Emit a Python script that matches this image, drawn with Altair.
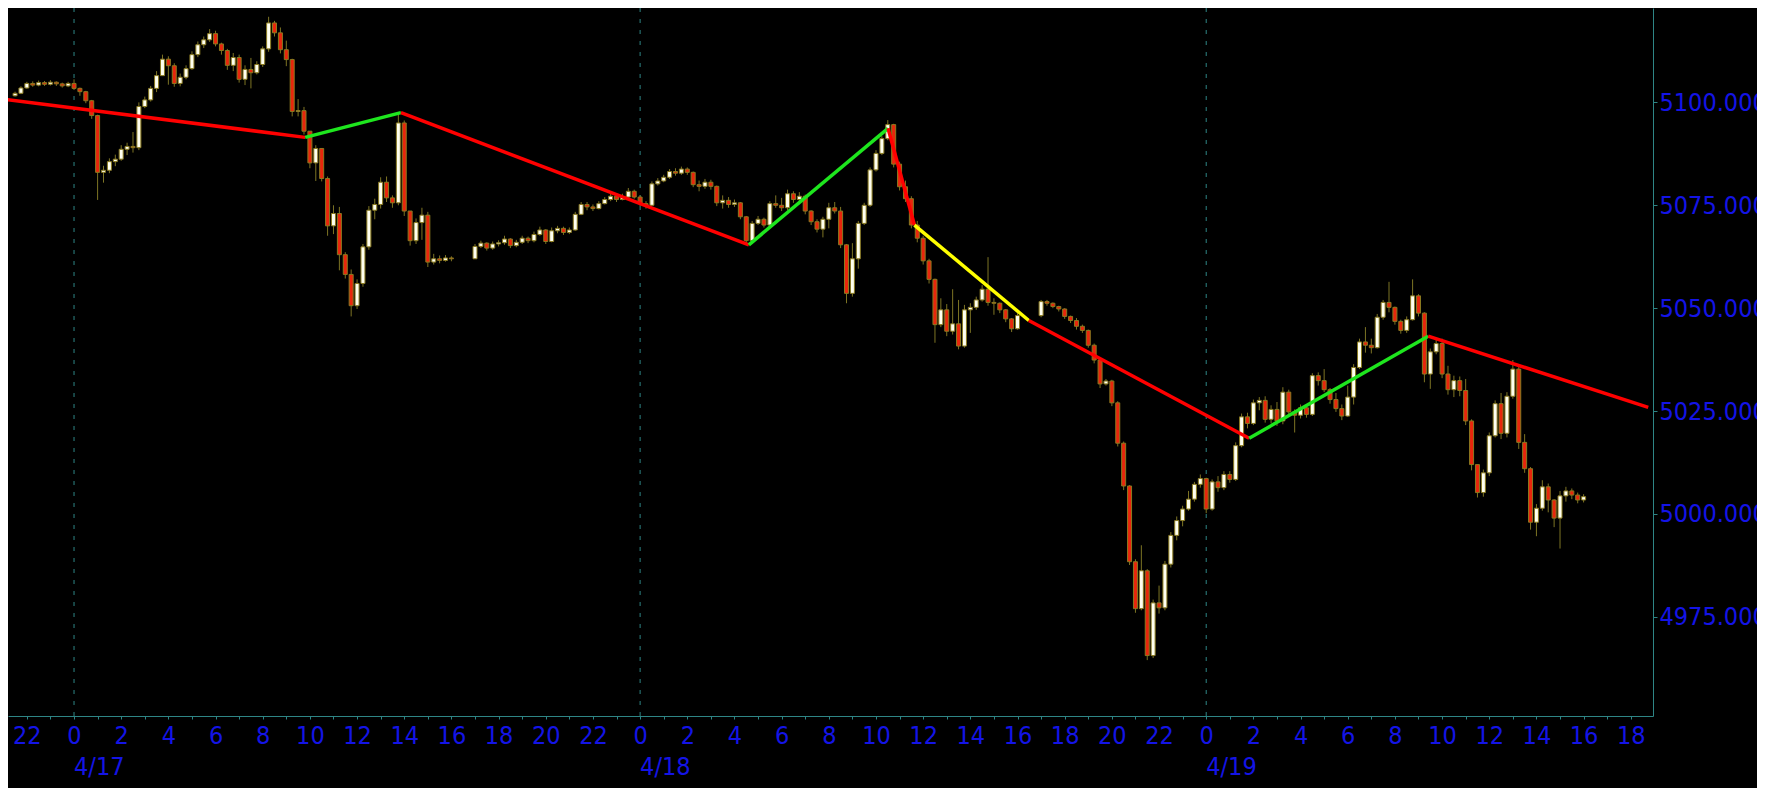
import pandas as pd
import altair as alt

# 15-minute bars, time in hours counted from 4/17 00:00
session_start = [-2.5, 17.0, 41.0]
first_open = 5101.6

a_close = [5102.2, 5103.5, 5104.6, 5104.2, 5104.8, 5104.4, 5104.9, 5104.5, 5104.0, 5104.6,
           5103.4, 5102.6, 5100.4, 5096.8, 5083.0, 5083.5, 5085.6, 5086.2, 5088.6, 5089.3,
           5089.0, 5099.0, 5100.6, 5103.4, 5106.5, 5110.5, 5108.9, 5104.6, 5106.1, 5108.2,
           5111.6, 5114.0, 5115.2, 5116.7, 5114.2, 5112.6, 5109.0, 5110.9, 5105.6, 5108.0,
           5107.2, 5109.2, 5113.0, 5119.3, 5116.9, 5112.8, 5110.4, 5097.8, 5098.0, 5093.0,
           5085.3, 5088.8, 5081.5, 5070.0, 5073.0, 5063.0, 5058.2, 5050.6, 5056.0, 5064.9,
           5073.8, 5075.2, 5080.6, 5076.8, 5075.6, 5095.0, 5073.6, 5066.4, 5070.8, 5072.6,
           5061.2, 5062.0, 5061.6, 5062.2, 5062.0]
a_high = [5102.6, 5103.9, 5105.0, 5105.1, 5105.3, 5105.2, 5105.4, 5105.1, 5104.8, 5105.0,
          5105.6, 5103.6, 5102.8, 5100.6, 5097.0, 5084.6, 5086.4, 5087.3, 5089.6, 5090.2,
          5092.8, 5100.0, 5101.4, 5104.0, 5107.6, 5111.6, 5111.2, 5109.5, 5107.0, 5109.0,
          5112.4, 5114.8, 5116.0, 5117.8, 5117.4, 5114.5, 5113.0, 5112.0, 5111.6, 5109.0,
          5110.8, 5110.0, 5113.6, 5120.8, 5119.8, 5118.2, 5115.0, 5110.6, 5100.8, 5098.9,
          5092.5, 5089.6, 5088.0, 5082.0, 5075.0, 5074.6, 5063.6, 5059.4, 5057.0, 5065.6,
          5074.8, 5076.6, 5081.8, 5082.0, 5077.4, 5097.2, 5095.6, 5073.6, 5071.8, 5074.4,
          5073.4, 5063.2, 5062.8, 5062.9, 5062.6]
a_low = [5101.4, 5102.0, 5103.3, 5103.8, 5103.9, 5104.0, 5104.1, 5104.0, 5103.6, 5103.7,
         5103.0, 5101.6, 5099.8, 5096.0, 5076.3, 5080.5, 5082.8, 5084.5, 5085.8, 5087.2,
         5087.8, 5088.4, 5098.6, 5100.2, 5102.5, 5106.8, 5104.3, 5103.8, 5103.9, 5105.6,
         5107.9, 5111.0, 5113.2, 5114.7, 5113.6, 5111.6, 5107.9, 5107.6, 5104.8, 5104.2,
         5103.4, 5106.8, 5108.6, 5112.3, 5116.0, 5111.9, 5108.8, 5096.6, 5096.6, 5092.2,
         5084.0, 5080.9, 5080.8, 5067.6, 5068.0, 5059.2, 5057.2, 5048.0, 5049.8, 5055.2,
         5064.2, 5071.6, 5074.2, 5075.8, 5074.4, 5075.0, 5072.4, 5065.2, 5065.6, 5066.6,
         5060.0, 5060.6, 5060.9, 5061.3, 5061.4]

b_close = [5065.0, 5065.8, 5064.6, 5065.6, 5065.9, 5066.8, 5065.2, 5066.0, 5067.0, 5066.4,
           5067.9, 5069.0, 5066.2, 5068.8, 5069.4, 5068.4, 5069.0, 5072.8, 5075.2, 5074.6,
           5074.2, 5075.4, 5076.4, 5077.2, 5076.4, 5077.0, 5078.4, 5077.0, 5075.4, 5075.0,
           5080.2, 5080.9, 5081.8, 5083.2, 5082.8, 5083.8, 5083.0, 5080.0, 5079.6, 5080.6,
           5079.6, 5075.6, 5076.2, 5075.2, 5075.6, 5072.2, 5066.4, 5070.6, 5071.6, 5070.2,
           5075.4, 5075.0, 5074.4, 5077.8, 5076.4, 5077.2, 5073.6, 5071.0, 5069.2, 5071.6,
           5074.4, 5073.6, 5065.4, 5053.6, 5062.0, 5070.6, 5075.0, 5083.6, 5087.6, 5091.2,
           5094.6, 5085.0, 5079.5, 5076.6, 5070.2, 5067.0, 5061.5, 5057.0, 5046.0, 5049.6,
           5044.4, 5046.2, 5040.8, 5049.6, 5050.2, 5052.0, 5054.6, 5051.4, 5051.2, 5049.6,
           5047.4, 5045.0, 5048.2]
b_high = [5065.6, 5066.4, 5066.0, 5066.2, 5066.5, 5067.6, 5067.0, 5066.6, 5067.6, 5067.4,
          5068.6, 5069.8, 5069.2, 5069.6, 5070.0, 5069.8, 5069.6, 5073.4, 5075.8, 5075.8,
          5075.2, 5076.0, 5077.0, 5077.8, 5077.6, 5077.8, 5079.2, 5078.8, 5077.4, 5076.0,
          5080.8, 5081.6, 5082.4, 5083.8, 5084.0, 5084.4, 5084.2, 5083.2, 5081.0, 5081.4,
          5081.2, 5079.8, 5077.4, 5077.0, 5076.4, 5075.8, 5072.4, 5071.2, 5072.4, 5072.0,
          5076.0, 5077.4, 5076.8, 5078.8, 5078.4, 5078.2, 5077.6, 5073.8, 5071.6, 5072.2,
          5075.6, 5075.8, 5074.6, 5065.6, 5065.8, 5071.2, 5075.6, 5084.2, 5088.4, 5091.8,
          5095.7, 5094.8, 5085.6, 5081.0, 5077.2, 5071.2, 5067.6, 5062.0, 5057.2, 5052.4,
          5051.0, 5054.6, 5052.0, 5050.8, 5051.2, 5052.8, 5055.6, 5062.4, 5052.4, 5051.4,
          5049.8, 5047.6, 5048.8]
b_low = [5062.8, 5064.6, 5064.0, 5064.2, 5065.0, 5065.4, 5064.6, 5064.8, 5065.6, 5065.8,
         5066.0, 5067.6, 5065.6, 5066.0, 5068.2, 5067.8, 5068.0, 5068.8, 5072.6, 5073.8,
         5073.6, 5074.0, 5075.2, 5076.0, 5075.8, 5076.2, 5076.6, 5076.6, 5074.8, 5074.2,
         5074.8, 5079.8, 5080.6, 5081.4, 5082.2, 5082.4, 5082.4, 5079.4, 5078.4, 5079.0,
         5078.8, 5074.8, 5074.2, 5074.4, 5074.6, 5071.6, 5065.4, 5065.8, 5070.2, 5069.6,
         5069.8, 5074.4, 5073.6, 5073.8, 5075.6, 5075.8, 5072.8, 5070.2, 5068.4, 5067.2,
         5069.4, 5073.0, 5064.6, 5051.2, 5052.8, 5059.6, 5070.2, 5074.6, 5083.2, 5087.2,
         5090.8, 5084.2, 5078.6, 5075.8, 5069.4, 5066.0, 5060.6, 5056.0, 5041.6, 5045.4,
         5043.2, 5043.6, 5040.0, 5040.4, 5044.0, 5049.6, 5051.6, 5050.6, 5048.4, 5048.8,
         5046.6, 5044.2, 5044.8]

c_close = [5051.6, 5051.2, 5050.4, 5049.8, 5048.0, 5047.0, 5045.6, 5044.6, 5041.0, 5037.4,
           5031.6, 5032.3, 5027.0, 5017.2, 5006.8, 4988.4, 4977.0, 4986.2, 4965.6, 4978.4,
           4977.2, 4987.8, 4994.8, 4998.4, 5001.2, 5003.6, 5007.2, 5008.6, 5001.2, 5007.8,
           5006.4, 5009.6, 5008.4, 5016.6, 5023.6, 5022.0, 5027.0, 5027.6, 5023.0, 5025.4,
           5022.6, 5029.6, 5024.8, 5024.0, 5025.8, 5024.2, 5033.6, 5032.4, 5030.2, 5027.8,
           5025.6, 5023.8, 5028.4, 5035.6, 5041.8, 5041.0, 5040.4, 5047.8, 5051.4, 5050.2,
           5046.8, 5044.6, 5047.2, 5053.0, 5048.8, 5034.0, 5039.4, 5041.4, 5034.0, 5030.2,
           5032.4, 5030.0, 5022.6, 5012.0, 5005.2, 5010.0, 5019.0, 5026.8, 5019.6, 5028.6,
           5035.2, 5017.4, 5011.0, 4998.0, 5001.4, 5006.6, 5003.4, 4999.0, 5004.4, 5005.6,
           5004.6, 5003.4, 5004.2]
c_high = [5052.0, 5052.0, 5051.4, 5050.6, 5050.0, 5048.2, 5047.6, 5046.0, 5044.8, 5041.4,
          5037.8, 5032.8, 5032.6, 5027.4, 5017.6, 5007.0, 4989.0, 4992.4, 4986.6, 4979.2,
          4982.6, 4988.6, 4995.6, 4999.4, 5002.0, 5005.6, 5007.8, 5009.6, 5008.8, 5008.4,
          5009.2, 5010.4, 5010.4, 5017.4, 5024.4, 5024.6, 5027.8, 5028.4, 5028.6, 5026.4,
          5027.2, 5030.8, 5030.2, 5025.4, 5026.6, 5026.4, 5034.2, 5034.4, 5035.2, 5030.6,
          5029.4, 5026.6, 5031.2, 5036.4, 5042.6, 5045.4, 5042.6, 5048.6, 5052.0, 5056.4,
          5050.4, 5047.2, 5048.0, 5057.0, 5053.4, 5049.0, 5040.2, 5042.4, 5042.6, 5036.0,
          5033.6, 5033.4, 5032.8, 5023.0, 5011.4, 5010.8, 5019.8, 5027.6, 5029.4, 5029.6,
          5037.4, 5036.0, 5019.4, 5011.4, 5002.4, 5008.2, 5007.4, 5003.6, 5005.6, 5006.6,
          5006.2, 5005.2, 5004.8]
c_low = [5047.8, 5050.6, 5050.0, 5049.2, 5047.4, 5046.4, 5044.8, 5044.0, 5040.4, 5036.6,
         5030.6, 5031.2, 5026.2, 5016.4, 5005.8, 4987.6, 4976.0, 4976.6, 4964.5, 4965.0,
         4975.8, 4976.6, 4987.0, 4993.6, 4997.0, 5000.8, 5003.0, 5006.4, 5000.2, 5000.8,
         5005.4, 5005.8, 5007.6, 5008.0, 5016.2, 5020.8, 5021.6, 5025.2, 5022.2, 5022.0,
         5021.4, 5021.8, 5024.0, 5019.8, 5023.2, 5023.4, 5023.8, 5031.2, 5029.6, 5026.8,
         5024.8, 5022.8, 5023.6, 5026.6, 5035.2, 5039.2, 5039.0, 5040.2, 5047.2, 5049.0,
         5046.0, 5043.8, 5044.0, 5047.0, 5048.0, 5032.0, 5030.4, 5038.8, 5033.0, 5029.0,
         5028.4, 5028.6, 5021.6, 5010.6, 5004.0, 5004.2, 5009.2, 5018.6, 5018.2, 5018.6,
         5028.0, 5015.8, 5010.0, 4996.2, 4994.6, 5000.8, 5000.4, 4996.8, 4991.6, 5003.0,
         5003.6, 5002.6, 5002.8]

# zigzag trend line pivots (hour, price) and leg colours
pivot_t = [-2.925, 9.8, 13.86, 28.61, 34.51, 35.63, 40.48, 49.82, 57.41, 66.74]
pivot_p = [5100.75, 5091.5, 5097.5, 5065.4, 5093.7, 5070.2, 5047.0, 5018.4, 5043.2, 5025.9]
leg_color = ["#ff0000", "#1ee61e", "#ff0000", "#1ee61e", "#ff0000",
             "#ffff00", "#ff0000", "#1ee61e", "#ff0000"]

day_t = [0, 24, 48]
day_label = ["4/17", "4/18", "4/19"]

FONT = "DejaVu Sans Condensed, DejaVu Sans"
BLUE = "#1414e6"
TEAL = "#2e8585"

hours = []
sessions = [(a_close, a_high, a_low), (b_close, b_high, b_low), (c_close, c_high, c_low)]
for start, s in zip(session_start, sessions):
    hours += [start + 0.25 * i for i in range(len(s[0]))]

bars = pd.DataFrame({
    "t": hours,
    "close": a_close + b_close + c_close,
    "high": a_high + b_high + c_high,
    "low": a_low + b_low + c_low,
})
bars["open"] = bars["close"].shift(1).fillna(first_open)
bars["high"] = bars[["high", "open", "close"]].max(axis=1)
bars["low"] = bars[["low", "open", "close"]].min(axis=1)

rows = []
for i, c in enumerate(leg_color):
    rows.append({"leg": i, "t": pivot_t[i], "p": pivot_p[i], "color": c})
    rows.append({"leg": i, "t": pivot_t[i + 1], "p": pivot_p[i + 1], "color": c})
legs = pd.DataFrame(rows)

days = pd.DataFrame({"t": day_t, "label": day_label})

x_scale = alt.Scale(domain=[-2.587, 66.73], nice=False, zero=False)
y_scale = alt.Scale(domain=[4950.92, 5122.93], nice=False, zero=False)

x_axis = alt.Axis(
    values=list(range(-2, 67)),
    labelExpr="datum.value % 2 == 0 ? '' + ((datum.value % 24 + 24) % 24) : ''",
    grid=False, domainColor=TEAL, tickColor=TEAL, tickSize=3,
    labelColor=BLUE, labelFont=FONT, labelFontSize=25, labelPadding=4,
    labelFlush=False, labelOverlap=False, title=None,
)
y_axis = alt.Axis(
    orient="right", values=[4975, 5000, 5025, 5050, 5075, 5100], format=".3f",
    grid=False, domainColor=TEAL, tickColor=TEAL, tickSize=4,
    labelColor=BLUE, labelFont=FONT, labelFontSize=25, labelPadding=2,
    labelFlush=False, labelOverlap=False, title=None,
)

X = alt.X("t:Q", scale=x_scale, axis=x_axis)

seps = alt.Chart(days).mark_rule(color=TEAL, strokeDash=[4, 7], strokeWidth=1).encode(x=X)

wicks = alt.Chart(bars).mark_rule(color="#7d7424", strokeWidth=1, clip=True).encode(
    x=X,
    y=alt.Y("low:Q", scale=y_scale, axis=y_axis),
    y2="high:Q",
)

bodies = alt.Chart(bars).mark_bar(size=4, stroke="#8a7a20", strokeWidth=1, clip=True).encode(
    x=X,
    y=alt.Y("open:Q", scale=y_scale, axis=y_axis),
    y2="close:Q",
    fill=alt.condition("datum.close >= datum.open", alt.value("#fffff0"), alt.value("#e8260c")),
)

lines = alt.Chart(legs).mark_line(strokeWidth=3.5, clip=True).encode(
    x=X,
    y=alt.Y("p:Q", scale=y_scale, axis=y_axis),
    detail="leg:N",
    color=alt.Color("color:N", scale=None),
)

dates = alt.Chart(days).mark_text(
    align="left", baseline="alphabetic", font=FONT, fontSize=25, color=BLUE
).encode(
    x=X,
    y=alt.value(767),
    text="label:N",
)

chart = alt.layer(seps, wicks, bodies, lines, dates).properties(
    width=1645,
    height=708,
    autosize=alt.AutoSizeParams(type="none"),
    padding={"left": 0, "top": 0, "right": 104, "bottom": 72},
    background="black",
).configure_view(strokeWidth=0, fill="black")

chart.save("out.html", embed_options={"renderer": "svg", "actions": False})
